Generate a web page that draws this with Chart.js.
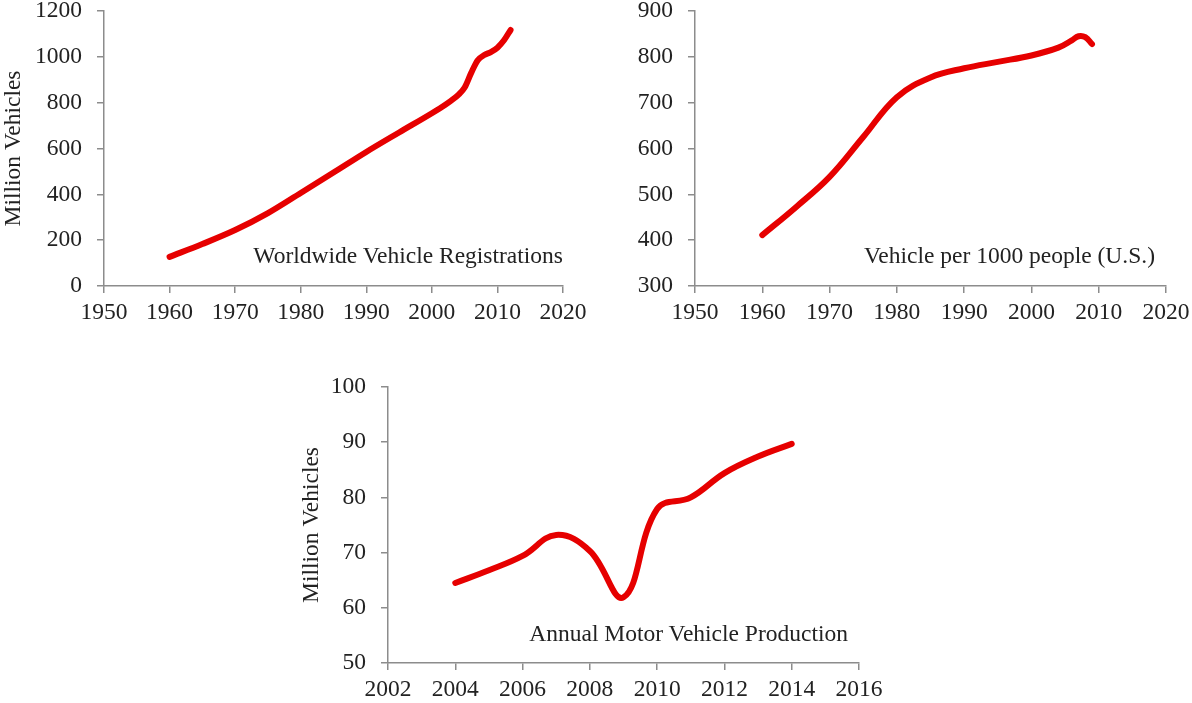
<!DOCTYPE html>
<html>
<head>
<meta charset="utf-8">
<script src="https://cdn.jsdelivr.net/npm/chart.js@4.4.1/dist/chart.umd.min.js"></script>
<style>
  html, body { margin:0; padding:0; background:#fff; }
  body { width:1192px; height:703px; position:relative; overflow:hidden; font-family:"Liberation Serif","Times New Roman",serif; }
  canvas { position:absolute; }
  .note { position:absolute; font-size:23.5px; line-height:23.5px; color:#222; white-space:nowrap; text-align:right; }
</style>
</head>
<body>
<canvas id="c1" width="596" height="355" style="left:0px;top:-20px"></canvas>
<canvas id="c2" width="620" height="355" style="left:596px;top:-20px"></canvas>
<canvas id="c3" width="640" height="348" style="left:262px;top:355px"></canvas>
<div class="note" style="right:629px;top:244px">Worldwide Vehicle Registrations</div>
<div class="note" style="right:37px;top:244px">Vehicle per 1000 people (U.S.)</div>
<div class="note" style="right:344px;top:622px">Annual Motor Vehicle Production</div>
<script>
// ---- Data ----
const regYears  = [1960,1965,1970,1975,1980,1985,1990,1995,2000,2002,2003,2004,2005,2006,2007,2008,2009,2010,2011,2012];
const regValues = [127,183,244,318,406,495,585,670,754,790,810,833,866,930,985,1008,1021,1040,1072,1117];

const usYears  = [1960,1965,1970,1975,1980,1985,1990,1995,2000,2004,2006,2007,2008,2009];
const usValues = [411,472,538,625,712,755,775,789,803,820,836,845,843,828];

const prodYears  = [2004,2005,2006,2007,2008,2009,2010,2011,2012,2013,2014];
const prodValues = [64.5,66.8,69.4,73.2,70.3,61.9,77.9,80.0,84.4,87.4,89.7];

const yTitle = 'Million Vehicles';

// ---- Styles ----
const FONT = {family:'"Liberation Serif","Times New Roman",serif', size:23.5};
const TEXT = '#222';
const AXIS = '#8c8c8c';
const RED = '#e60000';

function makeChart(id, xs, ys, cfg) {
  const pts = xs.map((x,i)=>({x:x, y:ys[i]}));
  return new Chart(document.getElementById(id), {
    type:'line',
    data:{datasets:[{data:pts, borderColor:RED, borderWidth:6, pointRadius:0, tension:0.4,
      cubicInterpolationMode:cfg.interp||'default',
      borderCapStyle:'round', borderJoinStyle:'round', fill:false}]},
    options:{
      responsive:false, animation:false, events:[],
      plugins:{legend:{display:false}, tooltip:{enabled:false}},
      layout:{padding:cfg.padding},
      scales:{
        x:{type:'linear', min:cfg.xMin, max:cfg.xMax,
          ticks:{stepSize:cfg.xStep, font:FONT, color:TEXT, padding:6, maxRotation:0, autoSkip:false, callback:v=>String(v)},
          grid:{drawOnChartArea:false, drawTicks:true, tickLength:7, color:AXIS, lineWidth:1.5},
          border:{color:AXIS, width:1.5},
          afterFit:s=>{s.height=cfg.xH;}},
        y:{min:cfg.yMin, max:cfg.yMax,
          ticks:{stepSize:cfg.yStep, font:FONT, color:TEXT, padding:15, callback:v=>String(v)},
          grid:{drawOnChartArea:false, drawTicks:true, tickLength:7, color:AXIS, lineWidth:1.5},
          border:{color:AXIS, width:1.5},
          title:{display:!!cfg.title, text:cfg.title||'', font:FONT, color:TEXT, padding:0},
          afterFit:s=>{s.width=cfg.yW;}}
      }
    }
  });
}

makeChart('c1', regYears, regValues, {xMin:1950,xMax:2020,xStep:10,yMin:0,yMax:1200,yStep:200,
  interp:'monotone', title:yTitle, yW:104, xH:49, padding:{left:0,top:31,right:33,bottom:0}});
makeChart('c2', usYears, usValues, {xMin:1950,xMax:2020,xStep:10,yMin:300,yMax:900,yStep:100,
  title:null, yW:99, xH:49, padding:{left:0,top:31,right:50,bottom:0}});
makeChart('c3', prodYears, prodValues, {xMin:2002,xMax:2016,xStep:2,yMin:50,yMax:100,yStep:10,
  title:yTitle, yW:90, xH:40, padding:{left:36,top:32,right:43,bottom:0}});
</script>
</body>
</html>
